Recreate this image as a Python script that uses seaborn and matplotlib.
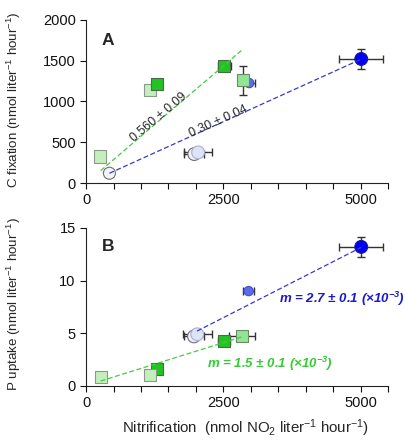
import numpy as np
import pandas as pd
import matplotlib
matplotlib.use("Agg")
import matplotlib.pyplot as plt
import seaborn as sns

# values
kinds_A = ['mid_blue', 'big_blue', 'mid_green', 'dark_green', 'light_green', 'dark_green',
           'light_green', 'white', 'lav_edge', 'lav']
nit_A = [2970, 5010, 2850, 2520, 1165, 1300, 260, 425, 1970, 2040]
cfix_A = [1225, 1520, 1260, 1430, 1140, 1215, 325, 120, 355, 375]
nit_err_A = [110, 400, 0, 110, 0, 0, 0, 0, 180, 260]
cfix_err_A = [0, 120, 180, 0, 0, 0, 0, 0, 0, 0]

kinds_B = ['big_blue', 'mid_blue', 'light_green', 'dark_green', 'light_green', 'dark_green',
           'mid_green', 'lav_edge', 'lav']
nit_B = [5010, 2960, 265, 1300, 1165, 2515, 2840, 1965, 2025]
pup_B = [13.2, 9.0, 0.8, 1.6, 1.0, 4.3, 4.7, 4.7, 4.9]
nit_err_B = [400, 100, 0, 0, 0, 110, 240, 180, 260]
pup_err_B = [0.95, 0, 0, 0, 0, 0, 0, 0, 0]

# fit lines: slope, intercept, x range
fitA_green = (0.574, 0.0, [265, 2860])
fitA_blue = (0.305, -10.0, [425, 5010])
fitB_green = (0.00163, 0.03, [265, 2840])
fitB_blue = (0.00266, -0.17, [2020, 5010])

face = {'big_blue': '#0000f5', 'mid_blue': '#5c6cf0', 'lav': '#dfe3f6', 'lav_edge': '#eef0fa',
        'white': '#f3f4fb', 'dark_green': '#22c322', 'mid_green': '#92e592',
        'light_green': '#c5eebd'}
edge = {'big_blue': '#1a1a90', 'mid_blue': '#4050c8', 'lav': '#a8aed0', 'lav_edge': '#707070',
        'white': '#707070', 'dark_green': '#4a6a4a', 'mid_green': '#6a8a6a',
        'light_green': '#8a9a8a'}
shape = {'big_blue': 'o', 'mid_blue': 'o', 'lav': 'o', 'lav_edge': 'o', 'white': 'o',
         'dark_green': 's', 'mid_green': 's', 'light_green': 's'}
size = {'big_blue': 85, 'mid_blue': 45, 'lav': 85, 'lav_edge': 85, 'white': 75,
        'dark_green': 75, 'mid_green': 75, 'light_green': 75}

sns.set_style('ticks')
plt.rcParams['font.family'] = ['Liberation Sans', 'DejaVu Sans']
plt.rcParams['mathtext.default'] = 'regular'

fig = plt.figure(figsize=(4.06, 4.40), dpi=100)
axA = fig.add_axes([0.212, 0.584, 0.744, 0.371])
axB = fig.add_axes([0.212, 0.123, 0.744, 0.359])


def draw(ax, kinds, x, y, xerr, yerr, fits):
    df = pd.DataFrame({'x': x, 'y': y, 'kind': kinds})
    ax.errorbar(df['x'], df['y'], xerr=xerr, yerr=[e if e else np.nan for e in yerr],
                fmt='none', ecolor='#333333', elinewidth=1, capsize=3, capthick=1, zorder=1)
    sns.scatterplot(data=df, x='x', y='y', hue='kind', palette=face, style='kind',
                    markers=shape, size='kind', sizes=size, legend=False, ax=ax,
                    edgecolor=[edge[k] for k in kinds], linewidth=0.8, zorder=2)
    for (m, b, xr), col in fits:
        xs = np.array(xr, dtype=float)
        sns.lineplot(x=xs, y=m * xs + b, color=col, lw=0.9, ax=ax, zorder=3)
        ax.lines[-1].set_dashes((4, 2))


draw(axA, kinds_A, nit_A, cfix_A, nit_err_A, cfix_err_A,
     [(fitA_green, '#44cc44'), (fitA_blue, '#3838d0')])
draw(axB, kinds_B, nit_B, pup_B, nit_err_B, pup_err_B,
     [(fitB_green, '#44cc44'), (fitB_blue, '#3838d0')])

for ax in (axA, axB):
    ax.set_xlim(0, 5500)
    ax.set_xticks([0, 2500, 5000])
    ax.set_xticks(np.arange(0, 5501, 500), minor=True)
    ax.tick_params(axis='both', which='both', direction='out', length=4, width=0.8,
                   labelsize=10.5, colors='#111111')
    sns.despine(ax=ax)
    for s in ('left', 'bottom'):
        ax.spines[s].set_linewidth(0.8)
        ax.spines[s].set_color('#222222')

axA.set_ylim(0, 2000)
axA.set_yticks([0, 500, 1000, 1500, 2000])
axB.set_ylim(0, 15)
axB.set_yticks([0, 5, 10, 15])

axA.set_xlabel('')
axA.set_ylabel('C fixation (nmol liter$^{-1}$ hour$^{-1}$)', fontsize=9.6)
axA.yaxis.set_label_coords(-0.21, 0.51)
axB.set_ylabel('P uptake (nmol liter$^{-1}$ hour$^{-1}$)', fontsize=9.6)
axB.yaxis.set_label_coords(-0.21, 0.52)
axB.set_xlabel('Nitrification  (nmol NO$_2$ liter$^{-1}$ hour$^{-1}$)', fontsize=10.8)
axB.xaxis.set_label_coords(0.527, -0.2)

axA.text(0.052, 0.92, 'A', transform=axA.transAxes, fontsize=12.5, fontweight='bold',
         va='top')
axB.text(0.052, 0.93, 'B', transform=axB.transAxes, fontsize=12.5, fontweight='bold',
         va='top')

axA.text(1330, 800, '0.560 ± 0.09', rotation=40, ha='center', va='center',
         rotation_mode='anchor', fontsize=9)
axA.text(2400, 750, '0.30 ± 0.04', rotation=24, ha='center', va='center',
         rotation_mode='anchor', fontsize=9)
axB.text(3520, 8.25, 'm = 2.7 ± 0.1 (×10$^{-3}$)', color='#1a1acc', fontsize=9.5,
         fontweight='bold', fontstyle='italic', va='center')
axB.text(2210, 2.1, 'm = 1.5 ± 0.1 (×10$^{-3}$)', color='#33cc33', fontsize=9.5,
         fontweight='bold', fontstyle='italic', va='center')

fig.savefig('out.png', dpi=100)
